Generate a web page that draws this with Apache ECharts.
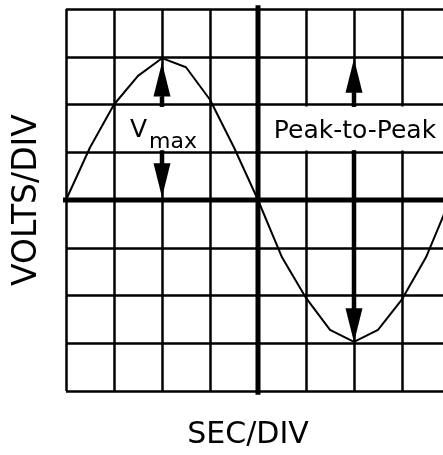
<!DOCTYPE html>
<html>
<head>
<meta charset="utf-8">
<script src="https://cdn.jsdelivr.net/npm/echarts@6/dist/echarts.min.js"></script>
<style>
html,body{margin:0;padding:0;background:#fff;overflow:hidden;}
#chart{width:450px;height:455px;}
</style>
</head>
<body>
<div id="chart"></div>
<script>
// Axis ranges (divisions)
const xMin = 0, xMax = 8, yMin = -4, yMax = 4;
// Waveform
const waveX = [0, 0.5, 1, 1.5, 2, 2.5, 3, 3.5, 4, 4.5, 5, 5.5, 6, 6.5, 7, 7.5, 8];
const waveY = [0, 1.1, 2.0, 2.6, 2.97, 2.78, 2.1, 1.1, 0, -1.2, -2.05, -2.72, -2.97, -2.72, -2.08, -1.2, 0];
// Centre cross lines
const centerX = 4, centerY = 0;
// Arrows: x, start value, tip value
const arrowX = [2, 2, 6, 6];
const arrowFrom = [1.97, 1.04, 1.97, 1.04];
const arrowTo = [2.88, 0.06, 2.96, -2.98];
// Labels
const labelNames = ['Vmax', 'Peak-to-Peak'];
const labelX = [2, 6];
const labelY = [1.5, 1.5];
// Axis titles
const xTitle = 'SEC/DIV';
const yTitle = 'VOLTS/DIV';

const FONT = '"DejaVu Sans", sans-serif';
const chart = echarts.init(document.getElementById('chart'), null, {renderer: 'canvas'});

const waveData = waveX.map((x, i) => [x, waveY[i]]);
const arrowData = arrowX.map((x, i) => [x, arrowFrom[i], arrowTo[i]]);
const labelData = labelX.map((x, i) => [x, labelY[i], i]);

function renderArrow(params, api) {
  const x = api.value(0), y0 = api.value(1), y1 = api.value(2);
  const p0 = api.coord([x, y0]);
  const p1 = api.coord([x, y1]);
  const dir = p1[1] > p0[1] ? 1 : -1;
  const headLen = 34, headW = 17, shaftW = 4.5;
  const baseY = p1[1] - dir * headLen;
  return {
    type: 'group',
    children: [
      {type: 'rect', shape: {x: p0[0] - shaftW / 2, y: Math.min(p0[1], baseY), width: shaftW, height: Math.abs(baseY - p0[1]) + 1}, style: {fill: '#000'}},
      {type: 'polygon', shape: {points: [[p1[0], p1[1]], [p1[0] - headW / 2, baseY], [p1[0] + headW / 2, baseY]]}, style: {fill: '#000'}}
    ]
  };
}

function renderLabel(params, api) {
  const idx = api.value(2);
  const p = api.coord([api.value(0), api.value(1)]);
  if (idx === 0) {
    return {
      type: 'group',
      children: [
        {type: 'rect', shape: {x: p[0] - 38, y: p[1] - 22, width: 76, height: 44}, style: {fill: '#fff'}},
        {type: 'text', x: p[0] - 32, y: p[1] + 2, style: {text: 'V', font: '25px ' + FONT, fill: '#000', align: 'left', verticalAlign: 'middle'}},
        {type: 'text', x: p[0] - 13, y: p[1] + 14, style: {text: 'max', font: '22px ' + FONT, fill: '#000', align: 'left', verticalAlign: 'middle'}}
      ]
    };
  }
  return {
    type: 'group',
    children: [
      {type: 'rect', shape: {x: p[0] - 93, y: p[1] - 22, width: 192, height: 44}, style: {fill: '#fff'}},
      {type: 'text', x: p[0] + 1, y: p[1] + 3, style: {text: 'Peak-to-Peak', font: '25px ' + FONT, fill: '#000', align: 'center', verticalAlign: 'middle'}}
    ]
  };
}

const option = {
  animation: false,
  backgroundColor: '#fff',
  grid: {left: 66, top: 9, right: 0, bottom: 62, containLabel: false},
  xAxis: {
    type: 'value', min: xMin, max: xMax, interval: 1,
    axisLine: {show: false}, axisTick: {show: false}, axisLabel: {show: false},
    splitLine: {show: true, lineStyle: {color: '#000', width: 2.5, type: 'solid'}},
    name: xTitle, nameLocation: 'middle', nameGap: 29,
    nameTextStyle: {fontFamily: FONT, fontSize: 30, color: '#000', padding: [0, 20, 0, 0]}
  },
  yAxis: {
    type: 'value', min: yMin, max: yMax, interval: 1,
    axisLine: {show: false}, axisTick: {show: false}, axisLabel: {show: false},
    splitLine: {show: true, lineStyle: {color: '#000', width: 2.5, type: 'solid'}},
    name: yTitle, nameLocation: 'middle', nameGap: 22, nameRotate: 90,
    nameTextStyle: {fontFamily: FONT, fontSize: 33, color: '#000'}
  },
  series: [
    {
      type: 'custom', name: 'labels', renderItem: renderLabel, data: labelData, z: 2, silent: true
    },
    {
      type: 'line', name: 'vcenter', data: [[centerX, yMin - 0.08], [centerX, yMax + 0.08]],
      showSymbol: false, symbol: 'none', clip: false, lineStyle: {color: '#000', width: 5}, z: 3, silent: true
    },
    {
      type: 'line', name: 'hcenter', data: [[xMin - 0.07, centerY], [xMax, centerY]],
      showSymbol: false, symbol: 'none', clip: false, lineStyle: {color: '#000', width: 5}, z: 3, silent: true
    },
    {
      type: 'line', name: 'wave', data: waveData, showSymbol: false, symbol: 'none',
      lineStyle: {color: '#000', width: 2}, z: 4, silent: true
    },
    {
      type: 'custom', name: 'arrows', renderItem: renderArrow, data: arrowData, z: 5, silent: true
    }
  ]
};
chart.setOption(option);
</script>
</body>
</html>
